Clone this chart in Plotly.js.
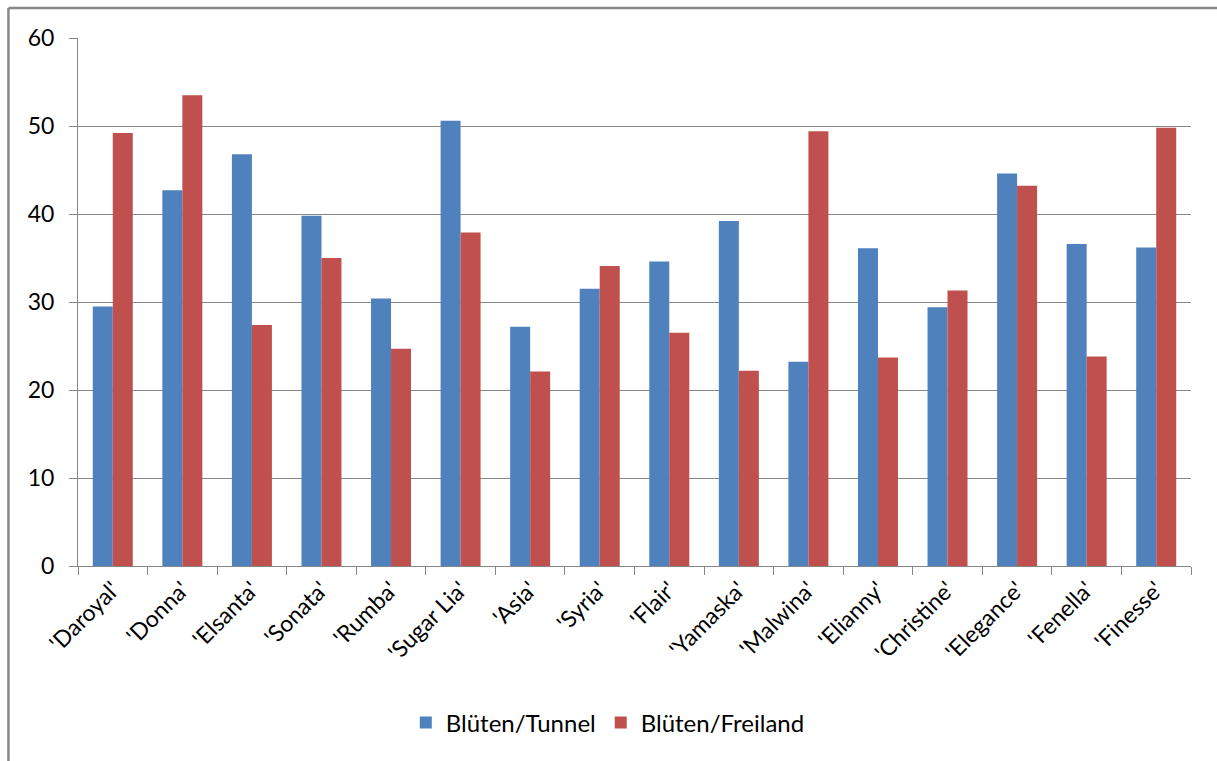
<!DOCTYPE html>
<html>
<head>
<meta charset="utf-8">
<script src="https://cdn.plot.ly/plotly-3.0.1.min.js"></script>
<style>html,body{margin:0;padding:0;background:#fff;}#chart{width:1217px;height:761px;}</style>
</head>
<body>
<div id="chart"></div>
<script>
var categories = ["'Daroyal'", "'Donna'", "'Elsanta'", "'Sonata'", "'Rumba'", "'Sugar Lia'", "'Asia'", "'Syria'", "'Flair'", "'Yamaska'", "'Malwina'", "'Elianny'", "'Christine'", "'Elegance'", "'Fenella'", "'Finesse'"];
var tunnel = [29.5, 42.7, 46.8, 39.8, 30.4, 50.6, 27.2, 31.5, 34.6, 39.2, 23.2, 36.1, 29.4, 44.6, 36.6, 36.2];
var freiland = [49.2, 53.5, 27.4, 35.0, 24.7, 37.9, 22.1, 34.1, 26.5, 22.2, 49.4, 23.7, 31.3, 43.2, 23.8, 49.8];
var seriesNames = ["Blüten/Tunnel", "Blüten/Freiland"];
var yTicks = [0, 10, 20, 30, 40, 50, 60];

var font = "Lato, 'Open Sans', sans-serif";
var data = [
  {type: 'bar', x: categories, y: tunnel, name: seriesNames[0], marker: {color: '#4F81BD', line: {width: 0}}},
  {type: 'bar', x: categories, y: freiland, name: seriesNames[1], marker: {color: '#C0504D', line: {width: 0}}}
];
var layout = {
  width: 1217, height: 761,
  margin: {l: 78, r: 26, t: 38, b: 195},
  paper_bgcolor: '#fff', plot_bgcolor: '#fff',
  barmode: 'group', bargap: 0.425, bargroupgap: 0,
  font: {family: font, size: 23, color: '#000'},
  xaxis: {
    type: 'category', tickangle: -45, showline: true, linecolor: '#868686', linewidth: 1,
    ticks: 'outside', tickson: 'boundaries', ticklen: 8, tickcolor: '#868686',
    showgrid: false, zeroline: false, tickfont: {family: font, size: 23}
  },
  yaxis: {
    range: [0, 60], tickvals: yTicks, showline: true, linecolor: '#868686', linewidth: 1,
    ticks: 'outside', ticklen: 8, tickcolor: '#868686', ticklabelstandoff: 10,
    showgrid: true, gridcolor: '#868686', gridwidth: 1, zeroline: false,
    tickfont: {family: font, size: 23}
  },
  legend: {orientation: 'h', x: 0.476, xanchor: 'center', y: -0.297, yanchor: 'middle',
           font: {family: font, size: 24}, itemwidth: 30, traceorder: 'normal'},
  shapes: [
    {type: 'line', xref: 'paper', yref: 'paper', x0: -0.0625, x1: 1.1, y0: 1.057, y1: 1.057, line: {color: '#878787', width: 2.5}},
    {type: 'line', xref: 'paper', yref: 'paper', x0: -0.0625, x1: -0.0625, y0: 1.057, y1: -0.5, line: {color: '#878787', width: 2.5}}
  ],
  showlegend: true
};
Plotly.newPlot('chart', data, layout, {displayModeBar: false, staticPlot: true});
</script>
</body>
</html>
